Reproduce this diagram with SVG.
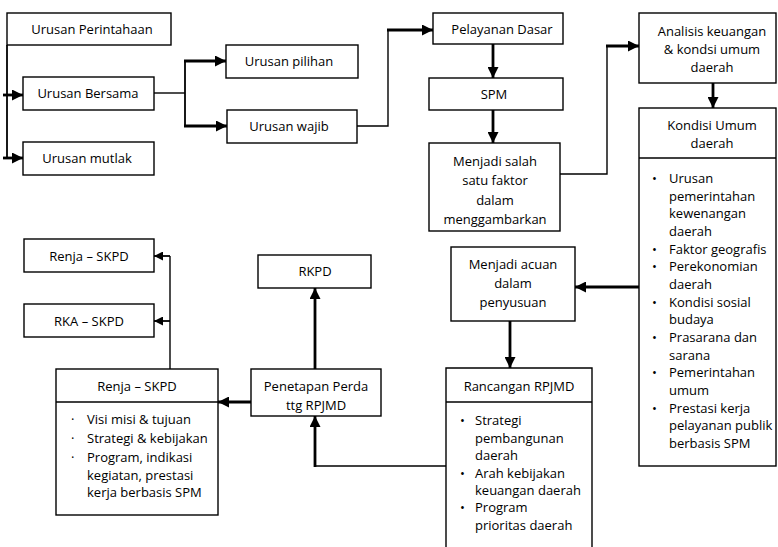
<svg xmlns="http://www.w3.org/2000/svg" width="778" height="547" viewBox="0 0 778 547">
  <style>
    .box { fill: #fff; stroke: #000; stroke-width: 1.4; }
    .div { stroke: #000; stroke-width: 1.4; fill: none; }
    .thin { stroke: #000; stroke-width: 1.4; fill: none; }
    .mid { stroke: #000; stroke-width: 1.8; fill: none; }
    .thick { stroke: #000; stroke-width: 2.8; fill: none; }
    text { font-family: "Open Sans", "Noto Sans", sans-serif; font-size: 13px; fill: #000; }
    .c { text-anchor: middle; }
  </style>
  <defs>
    <marker id="ah" viewBox="0 0 10 10" refX="10" refY="5" markerWidth="11" markerHeight="11" markerUnits="userSpaceOnUse" orient="auto">
      <path d="M0,0 L10,5 L0,10 z" fill="#000"/>
    </marker>
    <marker id="ahs" viewBox="0 0 10 10" refX="10" refY="5" markerWidth="9" markerHeight="9" markerUnits="userSpaceOnUse" orient="auto">
      <path d="M0,0 L10,5 L0,10 z" fill="#000"/>
    </marker>
  </defs>

  <rect width="778" height="547" fill="#fff"/>

  <!-- connectors -->
  <g id="connectors">
    <!-- Urusan Perintahaan branches -->
    <path class="mid" d="M7,45 V158"/>
    <path class="thick" d="M3,95 H23" marker-end="url(#ah)"/>
    <path class="thick" d="M3,158 H23" marker-end="url(#ah)"/>
    <!-- Urusan Bersama branches -->
    <path class="thin" d="M154,93 H185"/>
    <path class="mid" d="M185,61 V126"/>
    <path class="thick" d="M184,61 H226" marker-end="url(#ah)"/>
    <path class="thick" d="M184,126 H227" marker-end="url(#ah)"/>
    <!-- Urusan wajib to Pelayanan Dasar -->
    <path class="thin" d="M357,126 H388 V30"/>
    <path class="thick" d="M387,30 H433" marker-end="url(#ah)"/>
    <!-- Pelayanan Dasar chain -->
    <path class="thick" d="M493,44 V78" marker-end="url(#ah)"/>
    <path class="thick" d="M493,110 V143" marker-end="url(#ah)"/>
    <!-- Menjadi salah satu faktor to Analisis -->
    <path class="thin" d="M560,174 H607 V46"/>
    <path class="thick" d="M606,46 H639" marker-end="url(#ah)"/>
    <path class="thick" d="M713,83 V108" marker-end="url(#ah)"/>
    <!-- Kondisi Umum to Menjadi acuan -->
    <path class="thick" d="M639,287 H575" marker-end="url(#ah)"/>
    <path class="thick" d="M510,321 V368" marker-end="url(#ah)"/>
    <!-- Rancangan RPJMD to Penetapan Perda -->
    <path class="thin" d="M446,466 H315"/>
    <path class="thick" d="M315,467 V416" marker-end="url(#ah)"/>
    <path class="thick" d="M251,402 H218" marker-end="url(#ah)"/>
    <path class="thick" d="M315,369 V288" marker-end="url(#ah)"/>
    <!-- Renja - SKPD outputs -->
    <path class="thin" d="M170,369 V256"/>
    <path class="mid" d="M170,256 H154" marker-end="url(#ahs)"/>
    <path class="mid" d="M170,321 H154" marker-end="url(#ahs)"/>
  </g>

  <g id="urusan-perintahaan">
    <rect class="box" x="7" y="13" width="164" height="32"/>
    <text class="c" x="92" y="34">Urusan  Perintahaan</text>
  </g>
  <g id="urusan-bersama">
    <rect class="box" x="23" y="77" width="131" height="33"/>
    <text class="c" x="88" y="98">Urusan Bersama</text>
  </g>
  <g id="urusan-mutlak">
    <rect class="box" x="23" y="142" width="131" height="33"/>
    <text class="c" x="87" y="163">Urusan mutlak</text>
  </g>
  <g id="urusan-pilihan">
    <rect class="box" x="226" y="45" width="132" height="33"/>
    <text class="c" x="289" y="66">Urusan pilihan</text>
  </g>
  <g id="urusan-wajib">
    <rect class="box" x="227" y="110" width="130" height="33"/>
    <text class="c" x="289" y="131">Urusan wajib</text>
  </g>
  <g id="pelayanan-dasar">
    <rect class="box" x="433" y="13" width="130" height="31"/>
    <text class="c" x="502" y="34">Pelayanan Dasar</text>
  </g>
  <g id="spm">
    <rect class="box" x="429" y="78" width="134" height="32"/>
    <text class="c" x="494" y="99">SPM</text>
  </g>
  <g id="menjadi-faktor">
    <rect class="box" x="429" y="143" width="131" height="88"/>
    <text class="c" x="495" y="166">Menjadi salah</text>
    <text class="c" x="495" y="185">satu faktor</text>
    <text class="c" x="495" y="205">dalam</text>
    <text class="c" x="495" y="224">menggambarkan</text>
  </g>
  <g id="analisis">
    <rect class="box" x="639" y="13" width="137" height="70"/>
    <text class="c" x="712" y="36">Analisis keuangan</text>
    <text class="c" x="712" y="54">&amp; kondsi umum</text>
    <text class="c" x="712" y="72">daerah</text>
  </g>
  <g id="kondisi-umum">
    <rect class="box" x="639" y="108" width="137" height="358"/>
    <path class="div" d="M639,158 H776"/>
    <text class="c" x="712" y="130">Kondisi Umum</text>
    <text class="c" x="712" y="148">daerah</text>
    <text x="652" y="183">•</text><text x="669" y="183">Urusan</text>
    <text x="669" y="201">pemerintahan</text>
    <text x="669" y="218">kewenangan</text>
    <text x="669" y="236">daerah</text>
    <text x="652" y="254">•</text><text x="669" y="254">Faktor geografis</text>
    <text x="652" y="271">•</text><text x="669" y="271">Perekonomian</text>
    <text x="669" y="289">daerah</text>
    <text x="652" y="307">•</text><text x="669" y="307">Kondisi sosial</text>
    <text x="669" y="324">budaya</text>
    <text x="652" y="342">•</text><text x="669" y="342">Prasarana dan</text>
    <text x="669" y="360">sarana</text>
    <text x="652" y="377">•</text><text x="669" y="377">Pemerintahan</text>
    <text x="669" y="395">umum</text>
    <text x="652" y="413">•</text><text x="669" y="413">Prestasi kerja</text>
    <text x="669" y="430">pelayanan publik</text>
    <text x="669" y="448">berbasis  SPM</text>
  </g>
  <g id="menjadi-acuan">
    <rect class="box" x="451" y="247" width="124" height="74"/>
    <text class="c" x="513" y="269">Menjadi acuan</text>
    <text class="c" x="513" y="288">dalam</text>
    <text class="c" x="513" y="307">penyusuan</text>
  </g>
  <g id="rancangan-rpjmd">
    <path class="box" d="M446,550 V368 H592 V550"/>
    <path class="div" d="M446,402 H592"/>
    <text class="c" x="519" y="391">Rancangan RPJMD</text>
    <text x="460" y="425">•</text><text x="475" y="425">Strategi</text>
    <text x="475" y="443">pembangunan</text>
    <text x="475" y="460">daerah</text>
    <text x="460" y="478">•</text><text x="475" y="478">Arah kebijakan</text>
    <text x="475" y="495">keuangan daerah</text>
    <text x="460" y="512">•</text><text x="475" y="512">Program</text>
    <text x="475" y="530">prioritas daerah</text>
  </g>
  <g id="penetapan-perda">
    <rect class="box" x="251" y="369" width="130" height="47"/>
    <text class="c" x="316" y="391">Penetapan Perda</text>
    <text class="c" x="316" y="410">ttg RPJMD</text>
  </g>
  <g id="rkpd">
    <rect class="box" x="258" y="255" width="113" height="33"/>
    <text class="c" x="315" y="276">RKPD</text>
  </g>
  <g id="renja-skpd-kecil">
    <rect class="box" x="24" y="239" width="130" height="33"/>
    <text class="c" x="89" y="261">Renja – SKPD</text>
  </g>
  <g id="rka-skpd">
    <rect class="box" x="24" y="304" width="130" height="33"/>
    <text class="c" x="89" y="326">RKA – SKPD</text>
  </g>
  <g id="renja-skpd">
    <rect class="box" x="56" y="369" width="162" height="146"/>
    <path class="div" d="M56,402 H218"/>
    <text class="c" x="137" y="391">Renja – SKPD</text>
    <text x="71" y="424">·</text><text x="87" y="424">Visi misi &amp; tujuan</text>
    <text x="71" y="443">·</text><text x="87" y="443">Strategi &amp; kebijakan</text>
    <text x="71" y="462">·</text><text x="87" y="462">Program, indikasi</text>
    <text x="87" y="480">kegiatan, prestasi</text>
    <text x="87" y="497">kerja berbasis SPM</text>
  </g>
</svg>
